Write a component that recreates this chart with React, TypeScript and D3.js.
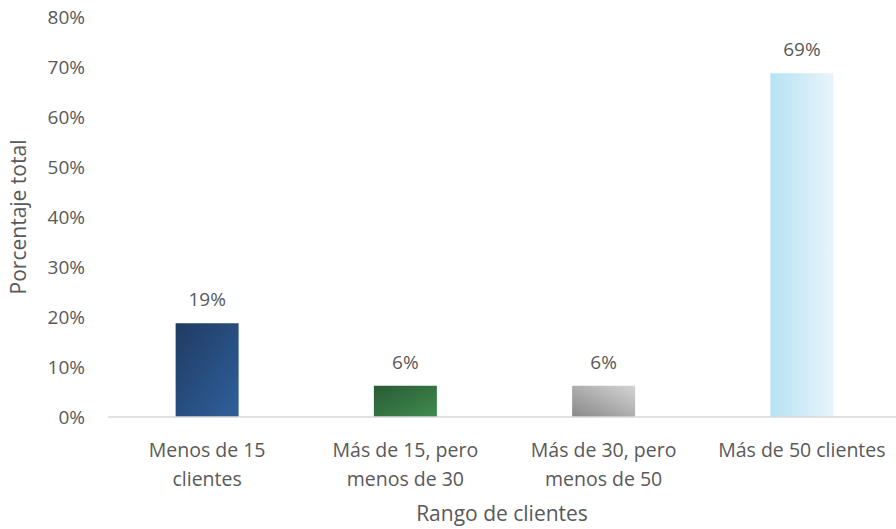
import React from "react";
import * as d3 from "d3";

const categories: string[][] = [
  ["Menos de 15", "clientes"],
  ["Más de 15, pero", "menos de 30"],
  ["Más de 30, pero", "menos de 50"],
  ["Más de 50 clientes"],
];
const values = [18.75, 6.25, 6.25, 68.75];
const labels = ["19%", "6%", "6%", "69%"];
const yTicks = [0, 10, 20, 30, 40, 50, 60, 70, 80];
const yTitle = "Porcentaje total";
const xTitle = "Rango de clientes";

const W = 896, H = 529;
const font = "Open Sans, Lato, sans-serif";
const textColor = "#595959";

const gradients = [
  { id: "g0", x1: "0%", y1: "0%", x2: "100%", y2: "100%", c1: "#1f3b63", c2: "#2f609b" },
  { id: "g1", x1: "0%", y1: "0%", x2: "100%", y2: "100%", c1: "#2a5a34", c2: "#3f8c50" },
  { id: "g2", x1: "100%", y1: "0%", x2: "0%", y2: "100%", c1: "#d4d4d4", c2: "#888888" },
  { id: "g3", x1: "0%", y1: "0%", x2: "100%", y2: "0%", c1: "#b6e2f4", c2: "#e8f5fb" },
];

export default function App() {
  const x = d3.scaleBand<number>().domain(d3.range(categories.length)).range([108, 901]).paddingInner(0.68).paddingOuter(0.34);
  const y = d3.scaleLinear().domain([0, 80]).range([417, 17]);
  const bw = 63;
  return (
    <svg width={W} height={H} style={{ position: "absolute", left: 0, top: 0 }} fontFamily={font}>
      <defs>
        {gradients.map((g) => (
          <linearGradient key={g.id} id={g.id} x1={g.x1} y1={g.y1} x2={g.x2} y2={g.y2}>
            <stop offset="0%" stopColor={g.c1} />
            <stop offset="100%" stopColor={g.c2} />
          </linearGradient>
        ))}
      </defs>
      {yTicks.map((t) => (
        <text key={t} x={85} y={y(t) + 7} textAnchor="end" fontSize={19} fill={textColor}>
          {t}%
        </text>
      ))}
      {values.map((v, i) => {
        const cx = x(i)! + x.bandwidth() / 2;
        return (
          <g key={i}>
            <rect x={cx - bw / 2} y={y(v)} width={bw} height={y(0) - y(v)} fill={`url(#g${i})`} />
            <text x={cx} y={y(v) - 17} textAnchor="middle" fontSize={19} fill={textColor}>
              {labels[i]}
            </text>
            {categories[i].map((l, j) => (
              <text key={j} x={cx} y={y(0) + 40 + j * 29} textAnchor="middle" fontSize={19.5} fill={textColor}>
                {l}
              </text>
            ))}
          </g>
        );
      })}
      <line x1={108} x2={896} y1={y(0)} y2={y(0)} stroke="#d9d9d9" strokeWidth={1.5} />
      <text x={502} y={521} textAnchor="middle" fontSize={21} fill={textColor}>{xTitle}</text>
      <text transform={`translate(26,${217}) rotate(-90)`} textAnchor="middle" fontSize={21} fill={textColor}>{yTitle}</text>
    </svg>
  );
}
